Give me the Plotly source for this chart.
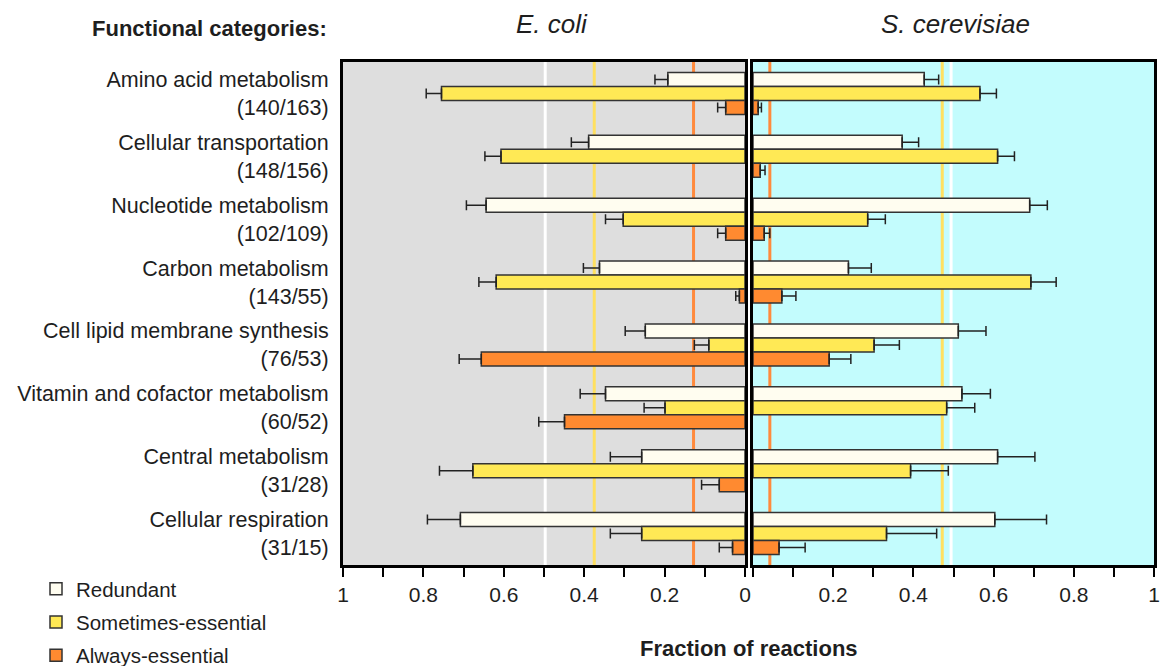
import plotly.graph_objects as go

categories = [
    "Amino acid metabolism<br>(140/163)",
    "Cellular transportation<br>(148/156)",
    "Nucleotide metabolism<br>(102/109)",
    "Carbon metabolism<br>(143/55)",
    "Cell lipid membrane synthesis<br>(76/53)",
    "Vitamin and cofactor metabolism<br>(60/52)",
    "Central metabolism<br>(31/28)",
    "Cellular respiration<br>(31/15)",
]
series_names = ["Redundant", "Sometimes-essential", "Always-essential"]

# E. coli (left panel)
ecoli_redundant = [0.192, 0.389, 0.644, 0.362, 0.248, 0.347, 0.257, 0.708]
ecoli_redundant_err = [0.032, 0.043, 0.049, 0.040, 0.050, 0.063, 0.078, 0.082]
ecoli_sometimes = [0.755, 0.607, 0.303, 0.619, 0.090, 0.199, 0.677, 0.257]
ecoli_sometimes_err = [0.038, 0.040, 0.044, 0.043, 0.036, 0.052, 0.083, 0.078]
ecoli_always = [0.048, None, 0.048, 0.014, 0.656, 0.449, 0.064, 0.031]
ecoli_always_err = [0.020, None, 0.020, 0.009, 0.055, 0.064, 0.044, 0.033]

# S. cerevisiae (right panel)
yeast_redundant = [0.427, 0.372, 0.690, 0.238, 0.512, 0.521, 0.610, 0.603]
yeast_redundant_err = [0.036, 0.041, 0.044, 0.057, 0.069, 0.071, 0.093, 0.129]
yeast_sometimes = [0.566, 0.610, 0.286, 0.693, 0.302, 0.483, 0.393, 0.333]
yeast_sometimes_err = [0.041, 0.042, 0.044, 0.063, 0.063, 0.070, 0.094, 0.125]
yeast_always = [0.013, 0.018, 0.028, 0.072, 0.190, None, None, 0.065]
yeast_always_err = [0.008, 0.012, 0.014, 0.035, 0.054, None, None, 0.065]

# reference lines (white, yellow, orange)
ecoli_lines = [0.497, 0.375, 0.128]
yeast_lines = [0.494, 0.472, 0.042]

colors = ["#fffdf0", "#ffe955", "#ff8a30"]
line_colors = ["#ffffff", "#ffe060", "#ff8a3d"]
text_color = "#1e1e1e"
FONT = "Liberation Sans, Arial, sans-serif"

W, H = 1161, 666
ML, MR, MT, MB = 343, 7, 62, 101
PW = W - ML - MR
PH = H - MT - MB
d1 = (745 - ML) / PW
d2 = (753 - ML) / PW


def px_x(p):
    return (p - ML) / PW


def px_y(p):
    return (H - MB - p) / PH


fig = go.Figure()

left_data = [(ecoli_redundant, ecoli_redundant_err), (ecoli_sometimes, ecoli_sometimes_err),
             (ecoli_always, ecoli_always_err)]
right_data = [(yeast_redundant, yeast_redundant_err), (yeast_sometimes, yeast_sometimes_err),
              (yeast_always, yeast_always_err)]

for i, (vals, errs) in enumerate(left_data):
    fig.add_trace(go.Bar(
        y=categories, x=vals, orientation="h", name=series_names[i],
        legendgroup=series_names[i], showlegend=True,
        marker=dict(color=colors[i], line=dict(color="#333333", width=1.5)),
        error_x=dict(type="data", array=errs, arrayminus=[0] * len(errs), symmetric=False,
                     color="#222222", thickness=1.5, width=5),
        xaxis="x", yaxis="y",
    ))
for i, (vals, errs) in enumerate(right_data):
    fig.add_trace(go.Bar(
        y=categories, x=vals, orientation="h", name=series_names[i],
        legendgroup=series_names[i], showlegend=False,
        marker=dict(color=colors[i], line=dict(color="#333333", width=1.5)),
        error_x=dict(type="data", array=errs, arrayminus=[0] * len(errs), symmetric=False,
                     color="#222222", thickness=1.5, width=5),
        xaxis="x2", yaxis="y2",
    ))

shapes = [
    dict(type="rect", xref="x domain", yref="y domain", x0=0, x1=1, y0=0, y1=1,
         fillcolor="#dedede", line=dict(width=0), layer="below"),
    dict(type="rect", xref="x2 domain", yref="y2 domain", x0=0, x1=1, y0=0, y1=1,
         fillcolor="#c3fcfd", line=dict(width=0), layer="below"),
]
for v, c in zip(ecoli_lines, line_colors):
    shapes.append(dict(type="line", xref="x", yref="y domain", x0=v, x1=v, y0=0, y1=1,
                       line=dict(color=c, width=3), layer="below"))
for v, c in zip(yeast_lines, line_colors):
    shapes.append(dict(type="line", xref="x2", yref="y2 domain", x0=v, x1=v, y0=0, y1=1,
                       line=dict(color=c, width=3), layer="below"))

axis_common = dict(
    showline=True, linewidth=3, linecolor="black", mirror=True,
    showgrid=False, zeroline=False, automargin=False,
    ticks="outside", ticklen=9, tickwidth=2, tickcolor="black",
    minor=dict(dtick=0.1, ticks="outside", ticklen=9, tickwidth=2, tickcolor="black", showgrid=False),
    tickfont=dict(family=FONT, size=21, color=text_color),
)

fig.update_layout(
    width=W, height=H,
    margin=dict(l=ML, r=MR, t=MT, b=MB, autoexpand=False),
    paper_bgcolor="white", plot_bgcolor="white",
    barmode="group", bargap=0.333, bargroupgap=0,
    font=dict(family=FONT, color=text_color),
    xaxis=dict(domain=[0, d1], range=[1, 0], anchor="y", dtick=0.2, tick0=0, **axis_common),
    xaxis2=dict(domain=[d2, 1], range=[0, 1], anchor="y2",
                tickvals=[0.2, 0.4, 0.6, 0.8, 1.0], ticktext=["0.2", "0.4", "0.6", "0.8", "1"],
                **axis_common),
    yaxis=dict(anchor="x", autorange="reversed", showline=True, linewidth=3, linecolor="black",
               mirror=True, showgrid=False, ticks="", ticklabelstandoff=7, automargin=False,
               tickfont=dict(family=FONT, size=21.5, color=text_color)),
    yaxis2=dict(anchor="x2", matches="y", autorange="reversed", showline=True, linewidth=3,
                linecolor="black", mirror=True, showgrid=False, ticks="", showticklabels=False,
                automargin=False),
    shapes=shapes,
    showlegend=True,
    legend=dict(x=px_x(36), y=px_y(569), xanchor="left", yanchor="top",
                font=dict(family=FONT, size=20.5, color=text_color),
                bgcolor="rgba(0,0,0,0)", tracegroupgap=3.5, traceorder="grouped"),
    annotations=[
        dict(text="<i>E. coli</i>", x=px_x(552), y=px_y(24), xref="paper", yref="paper",
             showarrow=False, xanchor="center", yanchor="middle",
             font=dict(family=FONT, size=26, color=text_color)),
        dict(text="<i>S. cerevisiae</i>", x=px_x(955), y=px_y(24), xref="paper", yref="paper",
             showarrow=False, xanchor="center", yanchor="middle",
             font=dict(family=FONT, size=26, color=text_color)),
        dict(text="<b>Functional categories:</b>", x=px_x(329), y=px_y(28), xref="paper",
             yref="paper", showarrow=False, xanchor="right", yanchor="middle",
             font=dict(family=FONT, size=22, color=text_color)),
        dict(text="<b>Fraction of reactions</b>", x=px_x(749), y=px_y(648), xref="paper",
             yref="paper", showarrow=False, xanchor="center", yanchor="middle",
             font=dict(family=FONT, size=22, color=text_color)),
    ],
)

fig.write_html("out.html")
